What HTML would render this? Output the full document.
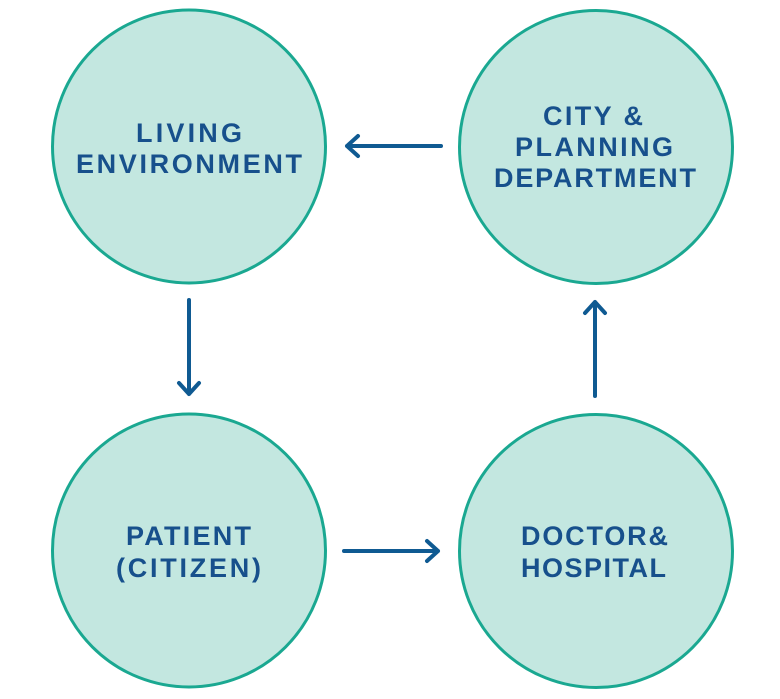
<!DOCTYPE html>
<html><head><meta charset="utf-8"><style>html,body{margin:0;padding:0;background:#fff}svg{display:block}</style></head>
<body>
<svg width="780" height="699" viewBox="0 0 780 699" xmlns="http://www.w3.org/2000/svg">
<g fill="#c3e7e0" stroke="#1aa891" stroke-width="3">
<circle cx="189" cy="146.5" r="136.5"/>
<circle cx="596" cy="147" r="136.5"/>
<circle cx="189" cy="550.5" r="136.5"/>
<circle cx="596" cy="551" r="136.5"/>
</g>
<g stroke="#0f5a92" stroke-width="4" fill="none" stroke-linecap="round" stroke-linejoin="round">
<path d="M441 146 H347 M358 136 L347 146 L358 156"/>
<path d="M189 300 V394 M179 383 L189 394 L199 383"/>
<path d="M595 396 V302 M585 313 L595 302 L605 313"/>
<path d="M344 551 H438 M427 541 L438 551 L427 561"/>
</g>
<g font-family="Liberation Sans, sans-serif" font-weight="bold" font-size="27" fill="#17508c">
<text x="136" y="142" textLength="106" lengthAdjust="spacing">LIVING</text>
<text x="76" y="173" textLength="226" lengthAdjust="spacing">ENVIRONMENT</text>
<text x="543" y="125" textLength="100" lengthAdjust="spacing">CITY &amp;</text>
<text x="515" y="156" textLength="158" lengthAdjust="spacing">PLANNING</text>
<text x="494" y="187" textLength="202" lengthAdjust="spacing">DEPARTMENT</text>
<text x="126" y="545" textLength="125" lengthAdjust="spacing">PATIENT</text>
<text x="116" y="577" textLength="145" lengthAdjust="spacing">(CITIZEN)</text>
<text x="521" y="545" textLength="147" lengthAdjust="spacing">DOCTOR&amp;</text>
<text x="521" y="577" textLength="145" lengthAdjust="spacing">HOSPITAL</text>
</g>
</svg>
</body></html>
